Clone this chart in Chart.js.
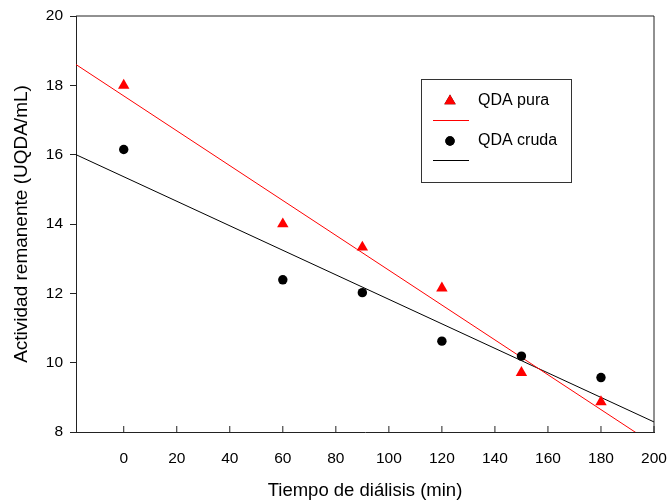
<!DOCTYPE html>
<html>
<head>
<meta charset="utf-8">
<script src="https://cdn.jsdelivr.net/npm/chart.js@4/dist/chart.umd.min.js"></script>
<style>
  html, body { margin: 0; padding: 0; background: #fff; }
  #wrap { width: 668px; height: 502px; }
</style>
</head>
<body>
<div id="wrap"><canvas id="grafico" width="668" height="502"></canvas></div>
<script>
// Actividad remanente frente al tiempo de diálisis
const tiempos = [0, 60, 90, 120, 150, 180];
const qdaPura = [18.0, 14.0, 13.33, 12.15, 9.71, 8.87];
const qdaCruda = [16.15, 12.39, 12.02, 10.62, 10.19, 9.57];

// rectas de ajuste: valor en cada extremo del eje x
const ajusteX = [-18, 200];
const ajustePura = [18.6, 7.64];
const ajusteCruda = [16.0, 8.29];

const ticksX = [0, 20, 40, 60, 80, 100, 120, 140, 160, 180, 200];
const ticksY = [8, 10, 12, 14, 16, 18, 20];

const ROJO = "#ff0000";
const NEGRO = "#000000";
const EJE = "#222222";

Chart.defaults.font.family = "'Liberation Sans', Arial, sans-serif";
Chart.defaults.color = "#000";

const puntos = (xs, ys) => xs.map((x, i) => ({ x: x, y: ys[i] }));

// marco superior/derecho y marcas hacia dentro en el eje x
const marcoPlugin = {
  id: "marco",
  afterDraw(chart) {
    const { ctx, chartArea: a, scales } = chart;
    ctx.save();
    ctx.strokeStyle = EJE;
    ctx.lineWidth = 1;
    ctx.beginPath();
    ctx.moveTo(a.left, a.top);
    ctx.lineTo(a.right, a.top);
    ctx.lineTo(a.right, a.bottom);
    ticksX.forEach((t) => {
      const px = scales.x.getPixelForValue(t);
      ctx.moveTo(px, a.bottom);
      ctx.lineTo(px, a.bottom - 6);
    });
    ctx.stroke();
    ctx.restore();
  },
};

// leyenda en recuadro: marcador encima y recta debajo
const leyendaPlugin = {
  id: "leyendaCaja",
  afterDraw(chart) {
    const ctx = chart.ctx;
    const caja = { x: 421, y: 79, w: 150, h: 103 };
    ctx.save();
    ctx.strokeStyle = "#333";
    ctx.lineWidth = 1;
    ctx.strokeRect(caja.x + 0.5, caja.y + 0.5, caja.w, caja.h);
    ctx.font = "16px 'Liberation Sans', Arial, sans-serif";
    ctx.textBaseline = "middle";
    ctx.textAlign = "left";
    const pares = [
      [chart.data.datasets[0], chart.data.datasets[2]],
      [chart.data.datasets[1], chart.data.datasets[3]],
    ];
    pares.forEach(([serie, recta], i) => {
      const yMarca = 101 + i * 40;
      Chart.helpers.drawPoint(ctx, {
        pointStyle: serie.pointStyle,
        radius: serie.pointRadius,
        rotation: 0,
        borderWidth: 0,
      }, 450, yMarca);
      ctx.fillStyle = serie.backgroundColor;
      ctx.fill();
      ctx.fillStyle = "#000";
      ctx.fillText(serie.label, 478, yMarca);
      ctx.strokeStyle = recta.borderColor;
      ctx.beginPath();
      ctx.moveTo(433, yMarca + 19.5);
      ctx.lineTo(469, yMarca + 19.5);
      ctx.stroke();
    });
    ctx.restore();
  },
};

new Chart(document.getElementById("grafico").getContext("2d"), {
  type: "scatter",
  data: {
    datasets: [
      {
        label: "QDA pura",
        data: puntos(tiempos, qdaPura),
        pointStyle: "triangle",
        pointRadius: 6.6,
        backgroundColor: ROJO,
        borderColor: ROJO,
        borderWidth: 0,
        showLine: false,
        order: 0,
      },
      {
        label: "QDA cruda",
        data: puntos(tiempos, qdaCruda),
        pointStyle: "circle",
        pointRadius: 4.7,
        backgroundColor: NEGRO,
        borderColor: NEGRO,
        borderWidth: 0,
        showLine: false,
        order: 0,
      },
      {
        label: "Ajuste pura",
        data: puntos(ajusteX, ajustePura),
        showLine: true,
        borderColor: ROJO,
        borderWidth: 1,
        pointRadius: 0,
        order: 1,
      },
      {
        label: "Ajuste cruda",
        data: puntos(ajusteX, ajusteCruda),
        showLine: true,
        borderColor: NEGRO,
        borderWidth: 1,
        pointRadius: 0,
        order: 1,
      },
    ],
  },
  options: {
    responsive: false,
    animation: false,
    layout: { padding: { top: 16, right: 14, left: 0, bottom: 0 } },
    plugins: {
      legend: { display: false },
      tooltip: { enabled: false },
    },
    scales: {
      x: {
        type: "linear",
        min: ajusteX[0],
        max: ajusteX[1],
        afterBuildTicks: (s) => { s.ticks = ticksX.map((v) => ({ value: v })); },
        afterFit: (s) => {
          s.height = 70;
          s.paddingLeft = 0;
          s.paddingRight = 0;
        },
        grid: { display: true, drawOnChartArea: false, drawTicks: false },
        border: { display: true, color: EJE, width: 1 },
        ticks: { font: { size: 15.5 }, padding: 17, maxRotation: 0, autoSkip: false },
        title: {
          display: true,
          text: "Tiempo de diálisis (min)",
          font: { size: 18.5 },
          padding: { top: 0, bottom: 0 },
        },
      },
      y: {
        min: ticksY[0],
        max: ticksY[ticksY.length - 1],
        afterBuildTicks: (s) => { s.ticks = ticksY.map((v) => ({ value: v })); },
        afterFit: (s) => {
          s.width = 76;
          s.paddingTop = 0;
          s.paddingBottom = 0;
        },
        grid: { display: true, drawOnChartArea: false, drawTicks: true, tickLength: 6, tickColor: EJE },
        border: { display: true, color: EJE, width: 1 },
        ticks: { font: { size: 15.5 }, padding: 7, autoSkip: false },
        title: {
          display: true,
          text: "Actividad remanente (UQDA/mL)",
          font: { size: 19 },
          padding: { top: 10, bottom: 0 },
        },
      },
    },
  },
  plugins: [marcoPlugin, leyendaPlugin],
});
</script>
</body>
</html>
